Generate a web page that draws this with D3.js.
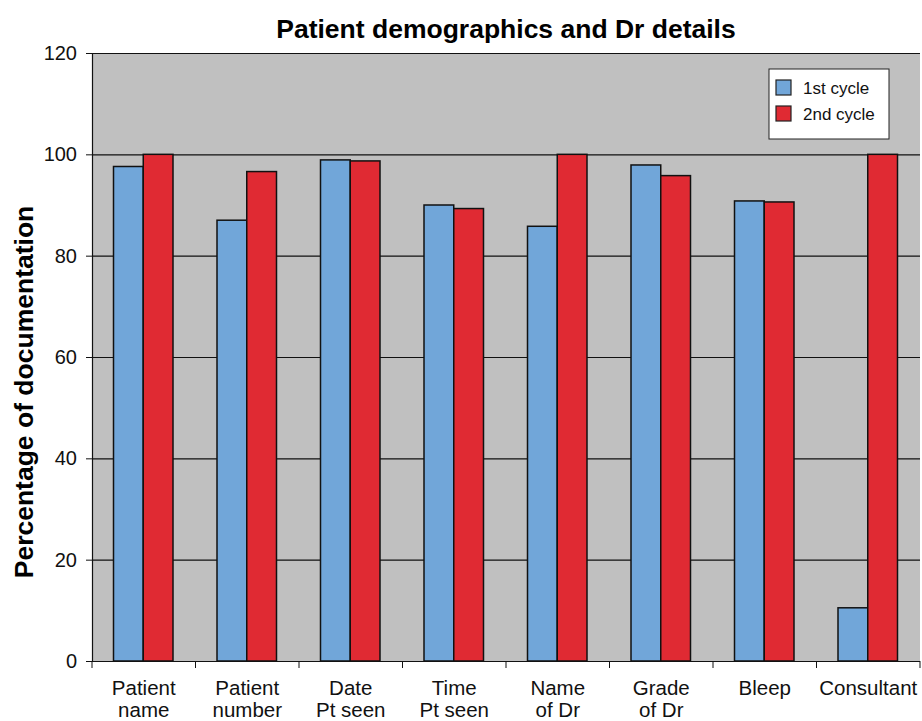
<!DOCTYPE html>
<html>
<head>
<meta charset="utf-8">
<script src="https://cdn.jsdelivr.net/npm/d3@7"></script>
<style>
  body { margin: 0; background: #fff; }
  text { font-family: "Liberation Sans", Arial, sans-serif; }
</style>
</head>
<body>
<svg id="chart" width="922" height="721"></svg>
<script>
// chart data
var categories = [
  ["Patient", "name"], ["Patient", "number"], ["Date", "Pt seen"], ["Time", "Pt seen"],
  ["Name", "of Dr"], ["Grade", "of Dr"], ["Bleep"], ["Consultant"]
];
var seriesNames = ["1st cycle", "2nd cycle"];
var firstCycle = [97.6, 87, 98.9, 90, 85.8, 97.9, 90.8, 10.5];
var secondCycle = [100, 96.6, 98.7, 89.3, 100, 95.8, 90.6, 100];
var yTicks = [0, 20, 40, 60, 80, 100, 120];
var colors = ["#71a6d9", "#e02a33"];

var svg = d3.select("#chart");
var margin = {left: 92, right: 2, top: 53, bottom: 60};
var width = 922 - margin.left - margin.right;
var height = 721 - margin.top - margin.bottom;

var idx = d3.range(categories.length);
var x = d3.scaleBand().domain(idx).range([0, width]).paddingInner(0).paddingOuter(0);
var x1 = d3.scaleBand().domain([0, 1]).range([21.5, x.bandwidth() - 22.5]);
var y = d3.scaleLinear().domain([0, 120]).range([height, 0]);

var g = svg.append("g")
    // plot area origin
    .attr("transform", "translate(" + margin.left + "," + margin.top + ")");

g.append("rect")
    .attr("width", width).attr("height", height)
    .attr("fill", "#c0c0c0");

g.selectAll("line.grid").data(yTicks.slice(1))
    .enter().append("line")
    .attr("class", "grid")
    .attr("x1", 0).attr("x2", width)
    .attr("y1", function(d) { return y(d) + 0.5; })
    .attr("y2", function(d) { return y(d) + 0.5; })
    .attr("stroke", "#111").attr("stroke-width", 1.2);

var data = idx.map(function(i) { return [firstCycle[i], secondCycle[i]]; });

var groups = g.selectAll("g.cat").data(data)
    .enter().append("g")
    .attr("transform", function(d, i) { return "translate(" + x(i) + ",0)"; });

groups.selectAll("rect").data(function(d) { return d; })
    .enter().append("rect")
    .attr("x", function(d, j) { return x1(j); })
    .attr("width", x1.bandwidth())
    .attr("y", function(d) { return y(d); })
    .attr("height", function(d) { return height - y(d); })
    .attr("fill", function(d, j) { return colors[j]; })
    .attr("stroke", "#111").attr("stroke-width", 1.5);

// y axis
var yAxis = g.append("g")
    .call(d3.axisLeft(y).tickValues(yTicks).tickSize(6).tickPadding(9));
yAxis.select(".domain").attr("stroke", "#111").attr("stroke-width", 1.2);
yAxis.selectAll(".tick line").attr("stroke", "#111");
yAxis.selectAll("text").attr("font-size", 20).attr("fill", "#111")
    .style("font-family", "Liberation Sans, Arial, sans-serif");

// x axis
var xTickPos = idx.concat([categories.length]);
var xAxisG = g.append("g").attr("transform", "translate(0," + height + ")");
xAxisG.append("line").attr("x1", 0).attr("x2", width)
    .attr("y1", 0.5).attr("y2", 0.5).attr("stroke", "#111").attr("stroke-width", 1.2);
xAxisG.selectAll("line.tk").data(xTickPos)
    .enter().append("line")
    .attr("x1", function(i) { return i * x.step(); })
    .attr("x2", function(i) { return i * x.step(); })
    .attr("y1", 0).attr("y2", 7)
    .attr("stroke", "#111");

var labels = xAxisG.selectAll("text.lbl").data(categories)
    .enter().append("text")
    .attr("text-anchor", "middle")
    .attr("font-size", 20.5).attr("fill", "#111")
    .attr("transform", function(d, i) { return "translate(" + (x(i) + x.bandwidth() / 2) + ",0)"; });
labels.selectAll("tspan").data(function(d) { return d; })
    .enter().append("tspan")
    .attr("x", 0)
    .attr("y", function(d, k) { return 34 + k * 22; })
    .text(function(d) { return d; });

// titles
svg.append("text")
    .attr("x", margin.left + width / 2).attr("y", 38)
    .attr("text-anchor", "middle")
    .attr("font-size", 26.5).attr("font-weight", "bold")
    .text("Patient demographics and Dr details");

svg.append("text")
    .attr("transform", "translate(33,392) rotate(-90)")
    .attr("text-anchor", "middle")
    .attr("font-size", 26.5).attr("font-weight", "bold")
    .text("Percentage of documentation");

// legend
var legend = svg.append("g").attr("transform", "translate(769,69)");
legend.append("rect").attr("width", 120).attr("height", 70)
    .attr("fill", "#fff").attr("stroke", "#222").attr("stroke-width", 1);
var items = legend.selectAll("g.item").data(seriesNames)
    .enter().append("g")
    .attr("transform", function(d, i) { return "translate(7," + (11 + i * 26) + ")"; });
items.append("rect").attr("width", 15).attr("height", 15)
    .attr("fill", function(d, i) { return colors[i]; })
    .attr("stroke", "#222").attr("stroke-width", 1.2);
items.append("text").attr("x", 27).attr("y", 14)
    .attr("font-size", 17).attr("fill", "#111")
    .text(function(d) { return d; });
</script>
</body>
</html>
